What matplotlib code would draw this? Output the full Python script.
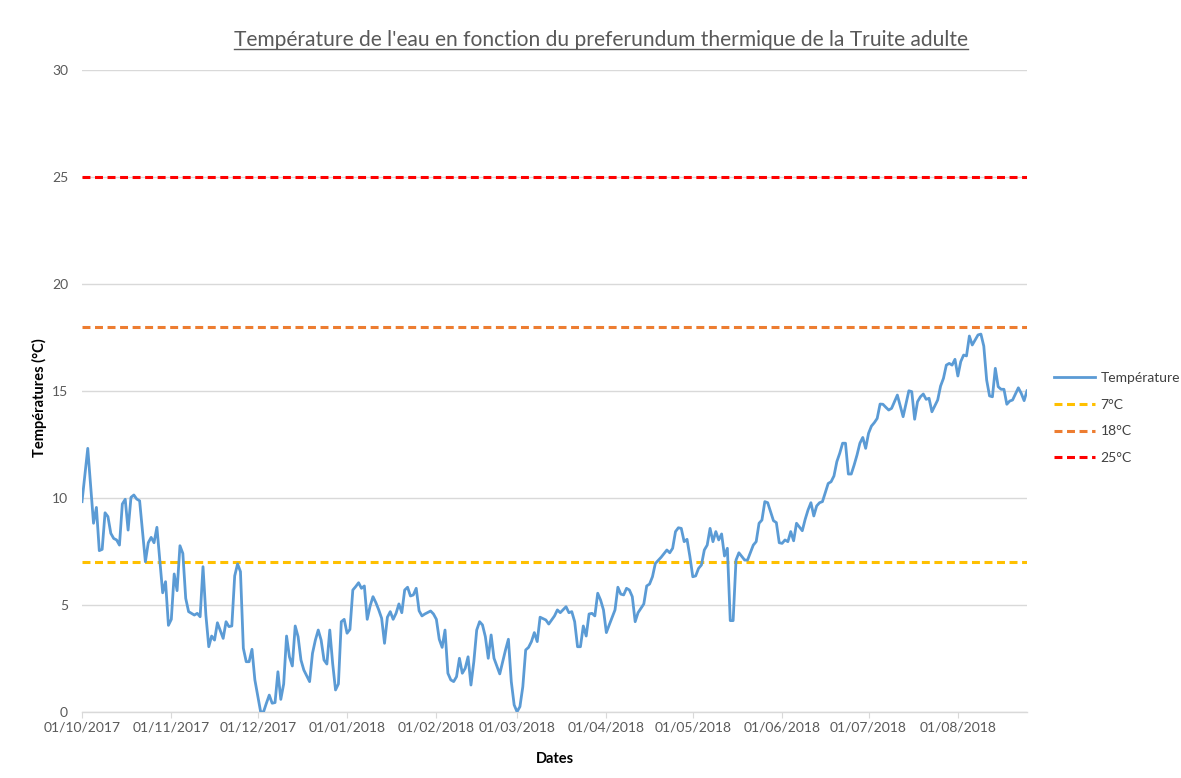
import matplotlib
matplotlib.use('Agg')
import matplotlib.pyplot as plt
import matplotlib.dates as mdates
from matplotlib.lines import Line2D
import pandas as pd

plt.rcParams['font.family'] = ['Lato', 'DejaVu Sans']

# ---------------- data ----------------
start_date = '2017-10-01'
day_offsets = [0, 2, 4, 5, 6, 7, 8, 9, 10, 11, 12, 13, 14, 15, 16, 17, 18, 19, 20, 22,
               23, 24, 25, 26, 28, 29, 30, 31, 32, 33, 34, 35, 36, 37, 39, 40, 41, 42, 43, 44,
               45, 46, 47, 49, 50, 51, 52, 53, 54, 55, 56, 57, 58, 59, 60, 62, 63, 64, 65, 66,
               67, 68, 69, 70, 71, 72, 73, 74, 75, 76, 77, 79, 80, 81, 82, 83, 84, 85, 86, 87,
               88, 89, 90, 91, 92, 93, 94, 95, 96, 97, 98, 99, 100, 101, 102, 103, 104, 105, 106, 107,
               108, 109, 110, 111, 112, 113, 114, 115, 116, 117, 118, 119, 121, 122, 123, 124, 125, 126, 127, 128,
               129, 130, 131, 132, 133, 134, 135, 136, 137, 138, 139, 140, 141, 142, 143, 145, 147, 148, 149, 150,
               151, 152, 153, 154, 155, 156, 157, 158, 159, 161, 162, 164, 165, 166, 168, 169, 170, 171, 172, 173,
               174, 175, 176, 177, 178, 179, 180, 181, 182, 183, 185, 186, 187, 188, 189, 190, 191, 192, 193, 195,
               196, 197, 198, 199, 201, 203, 204, 205, 206, 207, 208, 209, 210, 211, 212, 213, 214, 215, 216, 217,
               218, 219, 220, 221, 222, 223, 224, 225, 226, 227, 228, 230, 231, 233, 234, 235, 236, 237, 238, 240,
               241, 242, 243, 244, 245, 246, 247, 248, 250, 251, 252, 253, 254, 255, 256, 257, 259, 260, 261, 262,
               263, 264, 265, 266, 267, 268, 269, 270, 271, 272, 273, 274, 275, 276, 277, 278, 279, 280, 281, 283,
               284, 285, 287, 288, 289, 290, 291, 292, 293, 294, 295, 297, 298, 299, 300, 301, 302, 303, 304, 305,
               306, 307, 308, 309, 310, 311, 312, 313, 314, 315, 316, 317, 318, 319, 320, 321, 322, 323, 325, 326,
               327, 328]
temps = [9.83, 12.32, 8.82, 9.56, 7.54, 7.60, 9.31, 9.13, 8.35, 8.11, 8.04, 7.80, 9.72, 9.94, 8.50, 10.03, 10.14, 9.95, 9.87, 7.02,
         7.91, 8.16, 7.91, 8.63, 5.57, 6.09, 4.05, 4.33, 6.45, 5.67, 7.77, 7.41, 5.31, 4.69, 4.53, 4.61, 4.45, 6.79, 4.53, 3.05,
         3.55, 3.36, 4.17, 3.44, 4.22, 3.99, 4.02, 6.36, 6.92, 6.56, 2.98, 2.35, 2.35, 2.93, 1.50, 0.01, 0.00, 0.41, 0.79, 0.41,
         0.44, 1.88, 0.59, 1.31, 3.55, 2.58, 2.15, 4.02, 3.52, 2.43, 1.96, 1.42, 2.74, 3.36, 3.83, 3.36, 2.43, 2.24, 3.83, 2.27,
         1.03, 1.31, 4.22, 4.33, 3.68, 3.86, 5.70, 5.86, 6.04, 5.78, 5.89, 4.33, 4.95, 5.39, 5.11, 4.77, 4.38, 3.21, 4.43, 4.69,
         4.33, 4.61, 5.05, 4.64, 5.70, 5.83, 5.42, 5.47, 5.78, 4.73, 4.49, 4.58, 4.72, 4.58, 4.33, 3.40, 3.02, 3.83, 1.81, 1.50,
         1.42, 1.65, 2.51, 1.81, 2.04, 2.58, 1.26, 2.35, 3.83, 4.22, 4.07, 3.52, 2.51, 3.60, 2.51, 1.78, 2.90, 3.40, 1.42, 0.33,
         0.01, 0.25, 1.18, 2.90, 3.02, 3.29, 3.71, 3.29, 4.43, 4.30, 4.11, 4.49, 4.77, 4.64, 4.92, 4.64, 4.69, 4.22, 3.05, 3.05,
         4.02, 3.55, 4.58, 4.61, 4.49, 5.55, 5.23, 4.77, 3.71, 4.07, 4.77, 5.83, 5.51, 5.47, 5.78, 5.70, 5.39, 4.22, 4.64, 5.05,
         5.89, 5.98, 6.32, 6.94, 7.23, 7.57, 7.44, 7.65, 8.43, 8.61, 8.58, 7.96, 8.07, 7.26, 6.32, 6.36, 6.71, 6.87, 7.57, 7.80,
         8.58, 7.96, 8.43, 8.04, 8.32, 7.29, 7.65, 4.27, 4.27, 7.10, 7.44, 7.10, 7.10, 7.80, 7.96, 8.82, 8.97, 9.83, 9.78, 8.94,
         8.85, 7.91, 7.88, 8.04, 7.96, 8.43, 8.00, 8.82, 8.47, 9.00, 9.44, 9.78, 9.16, 9.63, 9.78, 9.83, 10.68, 10.76, 11.03, 11.70,
         12.09, 12.56, 12.56, 11.12, 11.12, 11.54, 12.01, 12.56, 12.83, 12.32, 13.02, 13.36, 13.52, 13.72, 14.39, 14.38, 14.24, 14.11, 14.19, 14.81,
         14.30, 13.80, 15.01, 14.97, 13.68, 14.50, 14.73, 14.86, 14.61, 14.66, 14.03, 14.58, 15.23, 15.59, 16.21, 16.29, 16.21, 16.48, 15.70, 16.37,
         16.68, 16.64, 17.57, 17.15, 17.38, 17.62, 17.66, 17.10, 15.51, 14.77, 14.73, 16.06, 15.20, 15.08, 15.08, 14.38, 14.53, 14.58, 15.15, 14.89,
         14.55, 15.01]
series_label = 'Température'
threshold_values = [7, 18, 25]
threshold_labels = ['7°C', '18°C', '25°C']
threshold_colors = ['#FFC000', '#ED7D31', '#FF0000']
y_ticks = [0, 5, 10, 15, 20, 25, 30]
title_text = "Température de l'eau en fonction du preferundum thermique de la Truite adulte"
x_label = 'Dates'
y_label = 'Températures (°C)'

dates = pd.Timestamp(start_date) + pd.to_timedelta(day_offsets, unit='D')
month_ticks = pd.date_range('2017-10-01', '2018-08-01', freq='MS')

# ---------------- figure ----------------
W, H = 1181, 778
fig = plt.figure(figsize=(W / 100, H / 100), dpi=100)
fig.patch.set_facecolor('white')

ax = fig.add_axes([82 / W, 1 - 712 / H, (1027 - 82) / W, (712 - 70) / H])

grey_text = '#595959'
grid_col = '#D9D9D9'

ax.plot(dates, temps, color='#5B9BD5', lw=2.0, label=series_label, zorder=3,
        solid_joinstyle='round')
for v, lab, c in zip(threshold_values, threshold_labels, threshold_colors):
    ax.axhline(v, color=c, lw=2.2, ls=(0, (2.6, 1.5)), label=lab, zorder=2)

ax.set_ylim(0, 30)
ax.set_yticks(y_ticks)
ax.set_xlim(pd.Timestamp(start_date), dates[-1])
ax.set_xticks(month_ticks)
ax.xaxis.set_major_formatter(mdates.DateFormatter('%d/%m/%Y'))

ax.grid(axis='y', color=grid_col, lw=1.0, zorder=0)
for s in ['top', 'right', 'left']:
    ax.spines[s].set_visible(False)
ax.spines['bottom'].set_color(grid_col)
ax.spines['bottom'].set_linewidth(1.0)
ax.tick_params(axis='y', length=0, pad=10, labelsize=10, labelcolor=grey_text)
ax.tick_params(axis='x', length=4, color=grid_col, pad=3, labelsize=10, labelcolor=grey_text)

ax.set_xlabel(x_label, fontsize=10.5, fontweight='bold', color='black', labelpad=13)
ax.set_ylabel(y_label, fontsize=10.5, fontweight='bold', color='black')
ax.yaxis.set_label_coords((47 - 82) / (1027 - 82), 0.49)

leg = fig.legend(loc='center left', bbox_to_anchor=(1041 / W, 1 - 418 / H), frameon=False,
                 fontsize=10, handlelength=3.0, labelspacing=1.07, handletextpad=0.4)
for t in leg.get_texts():
    t.set_color('#404040')

title = fig.text(601 / W, 1 - 40 / H, title_text, ha='center', va='center',
                 fontsize=15.1, color=grey_text)

fig.canvas.draw()
bb = title.get_window_extent(renderer=fig.canvas.get_renderer())
inv = fig.transFigure.inverted()
(x0, y0), (x1, y1) = inv.transform([[bb.x0, bb.y0], [bb.x1, bb.y1]])
fig.add_artist(Line2D([x0, x1], [y0 + 0.001, y0 + 0.001], transform=fig.transFigure,
                      color=grey_text, lw=1.0))

fig.savefig('out.png', dpi=100, facecolor=fig.get_facecolor())
